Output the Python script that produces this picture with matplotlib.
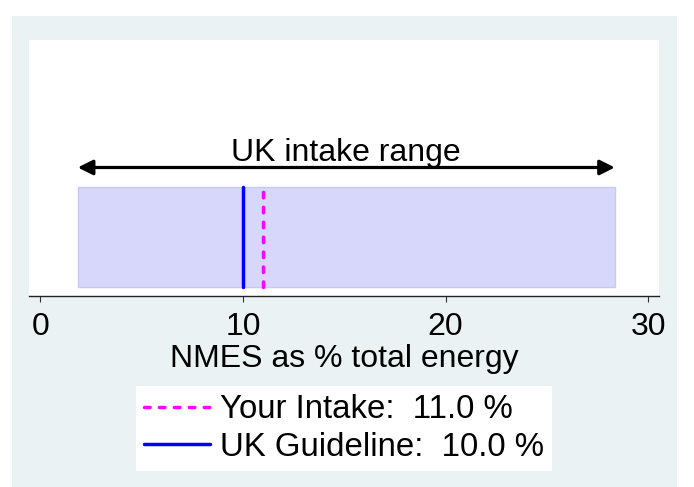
import matplotlib
matplotlib.use("Agg")
import matplotlib.pyplot as plt
from matplotlib.patches import Rectangle
from matplotlib.lines import Line2D

plt.rcParams['font.family'] = ['Liberation Sans', 'DejaVu Sans']

# Data
range_low = 1.85
range_high = 28.35
your_intake = 11.0
uk_guideline = 10.0
xticks = [0, 10, 20, 30]
xlabel = "NMES as % total energy"
range_label = "UK intake range"

FS = 23
LFS = 23.8

fig = plt.figure(figsize=(6.94, 4.87), dpi=100, facecolor='white')
W, H = 694, 487
# outer grey background
fig.patches.append(Rectangle((12 / W, 0), (677 - 12) / W, (H - 16) / H,
                             transform=fig.transFigure, facecolor='#eaf2f3',
                             edgecolor='none', zorder=-10))

ax = fig.add_axes([29 / W, (H - 296) / H, 630 / W, 256 / H])
ax.set_facecolor('white')
ax.set_xlim(-0.558, 30.53)
ax.set_ylim(0, 1)

rect_bot, rect_top = 0.035, 0.426
ax.add_patch(Rectangle((range_low, rect_bot), range_high - range_low, rect_top - rect_bot,
                       facecolor='#d7d7fb', edgecolor='#c9c9f7', linewidth=1, zorder=1))

ax.plot([uk_guideline, uk_guideline], [rect_bot, rect_top], color='#0000ff',
        linewidth=2.5, solid_capstyle='round', zorder=3)
ln, = ax.plot([your_intake, your_intake], [rect_bot, rect_top], color='#ff00ff',
              linewidth=2.5, dash_capstyle='round', zorder=3)
ln.set_dashes((1.6, 2.7))

ax.annotate('', xy=(range_low, 0.502), xytext=(range_high, 0.502),
            arrowprops=dict(arrowstyle='<|-|>,head_length=0.9,head_width=0.45',
                            mutation_scale=10, color='black', linewidth=2.3,
                            shrinkA=0, shrinkB=0), zorder=4)
ax.text((range_low + range_high) / 2, 0.527, range_label, ha='center', va='baseline',
        fontsize=FS, color='black')

for s in ['top', 'left', 'right']:
    ax.spines[s].set_visible(False)
ax.spines['bottom'].set_color('#222222')
ax.spines['bottom'].set_linewidth(1.0)
ax.set_yticks([])
ax.set_xticks(xticks)
ax.tick_params(axis='x', length=4.3, width=0.8, color='#333333', pad=7.0, labelsize=FS)
ax.set_xlabel(xlabel, fontsize=FS, labelpad=1.5)

handles = [Line2D([], [], color='#ff00ff', linewidth=2.5, dash_capstyle='round',
                  dashes=(1.6, 2.7)),
           Line2D([], [], color='#0000ff', linewidth=2.5, solid_capstyle='round')]
labels = [f"Your Intake:  {your_intake:.1f} %", f"UK Guideline:  {uk_guideline:.1f} %"]
leg = fig.legend(handles, labels, loc='center', bbox_to_anchor=(344 / W, (H - 428.5) / H),
                 fontsize=LFS, frameon=True, fancybox=False, framealpha=1,
                 edgecolor='none', facecolor='white', handlelength=2.0,
                 handletextpad=0.3, labelspacing=0.2, borderpad=0.25,
                 borderaxespad=0)

fig.savefig('out.png', dpi=100, facecolor='white')
